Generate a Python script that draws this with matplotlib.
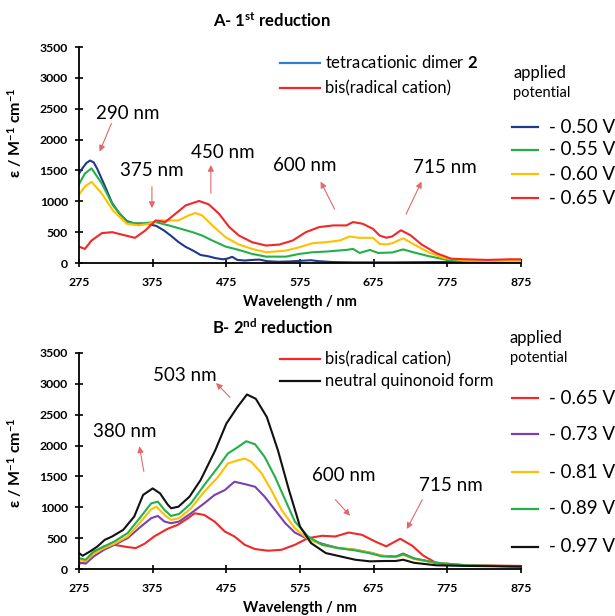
import matplotlib
matplotlib.use("Agg")
import matplotlib.pyplot as plt
from matplotlib.lines import Line2D

plt.rcParams['font.family'] = ['Lato', 'DejaVu Sans']
plt.rcParams['mathtext.fontset'] = 'custom'
plt.rcParams['mathtext.rm'] = 'Lato'
plt.rcParams['mathtext.bf'] = 'Lato:bold'
plt.rcParams['mathtext.it'] = 'Lato:italic'

# ---------------- Panel A data (1st reduction) ----------------
wl_a_050 = [275, 280, 285, 290, 295, 300, 310, 320, 330, 340, 350, 360, 370, 380, 390, 400, 410, 420, 430,
            440, 450, 460, 470, 476, 483, 490, 500, 510, 520, 530, 545, 560, 575, 590, 600, 620, 650, 700,
            750, 800, 850, 875]
eps_a_050 = [1450, 1540, 1620, 1660, 1630, 1520, 1250, 970, 800, 680, 640, 640, 630, 600, 530, 440, 340, 260,
             200, 130, 110, 80, 60, 70, 100, 50, 40, 50, 55, 30, 20, 25, 35, 45, 30, 15, 10, 10, 15, 20, 20, 20]

wl_a_055 = [275, 283, 292, 306, 321, 340, 356, 379, 397, 410, 429, 442, 456, 474, 492, 510, 529, 556, 574,
            592, 610, 638, 647, 656, 670, 681, 700, 715, 730, 750, 775, 800, 875]
eps_a_055 = [1277, 1450, 1533, 1288, 935, 663, 636, 663, 609, 565, 500, 446, 364, 266, 212, 147, 103, 103, 147,
             174, 185, 212, 228, 163, 212, 163, 170, 220, 170, 110, 50, 30, 20]

wl_a_060 = [275, 283, 292, 306, 321, 340, 356, 370, 383, 397, 410, 424, 433, 442, 456, 474, 492, 510, 529,
            556, 574, 592, 610, 629, 642, 656, 674, 683, 692, 700, 715, 730, 750, 770, 800, 875]
eps_a_060 = [1109, 1240, 1315, 1125, 853, 636, 609, 636, 690, 690, 690, 772, 810, 772, 609, 418, 299, 228, 174,
             201, 255, 321, 337, 364, 429, 408, 408, 310, 300, 320, 400, 300, 170, 80, 40, 30]

wl_a_065 = [275, 283, 292, 306, 320, 338, 351, 365, 379, 392, 406, 420, 438, 451, 465, 479, 492, 510, 529,
            547, 565, 583, 601, 620, 638, 647, 660, 674, 683, 692, 700, 712, 725, 740, 760, 780, 800, 830,
            860, 875]
eps_a_065 = [266, 228, 364, 484, 500, 446, 408, 527, 690, 663, 799, 935, 1005, 951, 799, 582, 446, 337, 283,
             299, 364, 500, 582, 609, 609, 663, 636, 554, 446, 410, 430, 530, 450, 300, 160, 70, 60, 50, 60, 60]

# ---------------- Panel B data (2nd reduction) ----------------
wl_b_065 = [275, 284, 295, 309, 323, 341, 352, 364, 377, 395, 409, 423, 432, 445, 459, 473, 486, 500, 514,
            532, 550, 568, 586, 605, 623, 641, 659, 677, 692, 711, 727, 742, 758, 774, 800, 875]
eps_b_065 = [86, 108, 258, 366, 392, 355, 339, 409, 527, 650, 715, 823, 903, 876, 769, 607, 527, 392, 323,
             296, 312, 392, 500, 538, 527, 591, 554, 446, 367, 490, 380, 220, 110, 70, 60, 50]

wl_b_073 = [275, 284, 295, 309, 323, 341, 359, 373, 382, 391, 400, 411, 427, 445, 459, 473, 486, 500, 514,
            527, 541, 555, 568, 586, 605, 627, 650, 673, 686, 705, 715, 730, 760, 800, 875]
eps_b_073 = [108, 86, 204, 312, 392, 500, 688, 823, 860, 769, 742, 769, 903, 1064, 1199, 1279, 1414, 1376,
             1333, 1172, 957, 742, 591, 484, 409, 339, 312, 258, 215, 200, 250, 170, 100, 60, 40]

wl_b_081 = [275, 284, 295, 309, 323, 341, 359, 373, 380, 391, 400, 411, 427, 445, 464, 477, 491, 500, 509,
            523, 536, 550, 568, 586, 605, 627, 650, 673, 686, 705, 715, 730, 760, 800, 875]
eps_b_081 = [150, 124, 247, 339, 409, 527, 769, 968, 1011, 876, 796, 823, 984, 1253, 1495, 1710, 1763, 1790,
             1736, 1548, 1280, 957, 661, 484, 392, 339, 312, 258, 215, 190, 230, 160, 100, 60, 40]

wl_b_089 = [275, 284, 295, 309, 323, 341, 359, 373, 382, 391, 400, 411, 427, 445, 464, 477, 491, 502, 514,
            527, 541, 555, 568, 586, 605, 627, 650, 673, 686, 705, 715, 730, 760, 800, 875]
eps_b_089 = [177, 150, 285, 366, 446, 581, 849, 1064, 1091, 957, 860, 892, 1064, 1360, 1656, 1871, 1978, 2070,
             2021, 1817, 1495, 1118, 769, 527, 392, 339, 301, 247, 204, 200, 240, 170, 100, 60, 40]

wl_b_097 = [275, 280, 290, 300, 310, 320, 335, 350, 362, 375, 385, 395, 400, 410, 425, 440, 460, 475, 490,
            503, 515, 530, 545, 560, 575, 590, 610, 630, 650, 670, 690, 705, 715, 730, 760, 800, 875]
eps_b_097 = [258, 215, 285, 365, 473, 527, 634, 850, 1200, 1306, 1226, 1050, 984, 1010, 1172, 1440, 1925, 2355,
             2623, 2828, 2758, 2462, 1925, 1280, 688, 420, 258, 204, 150, 124, 130, 130, 150, 100, 60, 50, 40]

x_ticks = [275, 375, 475, 575, 675, 775, 875]
y_ticks = [0, 500, 1000, 1500, 2000, 2500, 3000, 3500]

C_NAVY = '#1f3a8a'
C_BLUE = '#2e7fd0'
C_GREEN = '#22b04a'
C_YELLOW = '#ffc000'
C_RED = '#f02828'
C_PURPLE = '#7a3fb0'
C_BLACK = '#111111'
C_ARROW = '#e06a6a'

fig = plt.figure(figsize=(6.15, 6.16), dpi=100)
W, H = 615.0, 616.0


def fx(px):
    return px / W


def fy(py):
    return 1 - py / H


axA = fig.add_axes([fx(79), fy(263), fx(521) - fx(79), fy(47) - fy(263)])
axB = fig.add_axes([fx(79), fy(569), fx(521) - fx(79), fy(353) - fy(569)])

lw = 1.5
axA.plot(wl_a_050, eps_a_050, color=C_NAVY, lw=lw)
axA.plot(wl_a_055, eps_a_055, color=C_GREEN, lw=lw)
axA.plot(wl_a_060, eps_a_060, color=C_YELLOW, lw=lw)
axA.plot(wl_a_065, eps_a_065, color=C_RED, lw=lw)

axB.plot(wl_b_065, eps_b_065, color=C_RED, lw=lw)
axB.plot(wl_b_073, eps_b_073, color=C_PURPLE, lw=lw)
axB.plot(wl_b_081, eps_b_081, color=C_YELLOW, lw=lw)
axB.plot(wl_b_089, eps_b_089, color=C_GREEN, lw=lw)
axB.plot(wl_b_097, eps_b_097, color=C_BLACK, lw=lw)

ylab = r'ε / M$^{\mathbf{-1}}$ cm$^{\mathbf{-1}}$'
for ax in (axA, axB):
    ax.set_xlim(275, 875)
    ax.set_ylim(0, 3500)
    ax.set_xticks(x_ticks)
    ax.set_yticks(y_ticks)
    ax.spines['top'].set_visible(False)
    ax.spines['right'].set_visible(False)
    ax.spines['left'].set_linewidth(1.3)
    ax.spines['bottom'].set_linewidth(1.3)
    ax.tick_params(direction='inout', length=6, width=1.2, labelsize=8.8)
    ax.tick_params(axis='x', pad=7)
    ax.tick_params(axis='y', pad=5)
    for lab in ax.get_xticklabels() + ax.get_yticklabels():
        lab.set_fontweight('bold')
    ax.set_xlabel('Wavelength / nm', fontsize=10.5, fontweight='bold', labelpad=5)
    ax.set_ylabel(ylab, fontsize=11.5, fontweight='bold')
    ax.patch.set_alpha(0)

axA.yaxis.set_label_coords(-0.125, 0.605)
axB.yaxis.set_label_coords(-0.125, 0.49)

fig.text(fx(272), fy(21), r'A- 1$^{\mathbf{st}}$ reduction', ha='center', va='center',
         fontsize=12, fontweight='bold')
fig.text(fx(272), fy(327), r'B- 2$^{\mathbf{nd}}$ reduction', ha='center', va='center',
         fontsize=12, fontweight='bold')

# inner legends
leg_fs = 12


def inner_entry(py, color, label):
    fig.add_artist(Line2D([fx(280), fx(320)], [fy(py), fy(py)], color=color, lw=1.6,
                          transform=fig.transFigure))
    fig.text(fx(325), fy(py), label, ha='left', va='center', fontsize=leg_fs)


inner_entry(63, C_BLUE, r'tetracationic dimer $\mathbf{2}$')
inner_entry(88, C_RED, 'bis(radical cation)')
inner_entry(359, C_RED, 'bis(radical cation)')
inner_entry(381, C_BLACK, 'neutral quinonoid form')


# right legends
def right_entry(py, color, label):
    fig.add_artist(Line2D([fx(512), fx(538)], [fy(py), fy(py)], color=color, lw=1.6,
                          transform=fig.transFigure))
    fig.text(fx(549), fy(py), label, ha='left', va='center', fontsize=13.5)


fig.text(fx(513), fy(73), 'applied', ha='left', va='center', fontsize=12)
fig.text(fx(513), fy(93), 'potential', ha='left', va='center', fontsize=10.5)
for py, c, lab in [(127, C_NAVY, '- 0.50 V'), (150, C_GREEN, '- 0.55 V'),
                   (174, C_YELLOW, '- 0.60 V'), (198, C_RED, '- 0.65 V')]:
    right_entry(py, c, lab)

fig.text(fx(510), fy(338), 'applied', ha='left', va='center', fontsize=12)
fig.text(fx(510), fy(358), 'potential', ha='left', va='center', fontsize=10.5)
for py, c, lab in [(398, C_RED, '- 0.65 V'), (434, C_PURPLE, '- 0.73 V'),
                   (472, C_YELLOW, '- 0.81 V'), (509, C_GREEN, '- 0.89 V'),
                   (547, C_BLACK, '- 0.97 V')]:
    right_entry(py, c, lab)

# annotations
ann_fs = 13.5
arrow = dict(arrowstyle='-|>', color=C_ARROW, lw=0.8, mutation_scale=9, shrinkA=0, shrinkB=0)


def annot(ax, text, tx, ty, x0, y0, x1, y1):
    ax.text(tx, ty, text, ha='center', va='center', fontsize=ann_fs)
    ax.annotate('', xy=(x1, y1), xytext=(x0, y0), arrowprops=arrow)


annot(axA, '290 nm', 341, 2430, 319, 2262, 303, 1804)
annot(axA, '375 nm', 374, 1497, 374, 1239, 374, 889)
annot(axA, '450 nm', 470, 1788, 454, 1131, 454, 1589)
annot(axA, '600 nm', 582, 1578, 622, 872, 603, 1319)
annot(axA, '715 nm', 771, 1545, 719, 792, 740, 1319)

annot(axB, '503 nm', 419, 3133, 480, 2782, 461, 3014)
annot(axB, '380 nm', 337, 2231, 363, 1582, 357, 1987)
annot(axB, '600 nm', 634, 1518, 623, 1123, 643, 864)
annot(axB, '715 nm', 780, 1356, 741, 1123, 720, 648)

fig.savefig('out.png', dpi=100)
